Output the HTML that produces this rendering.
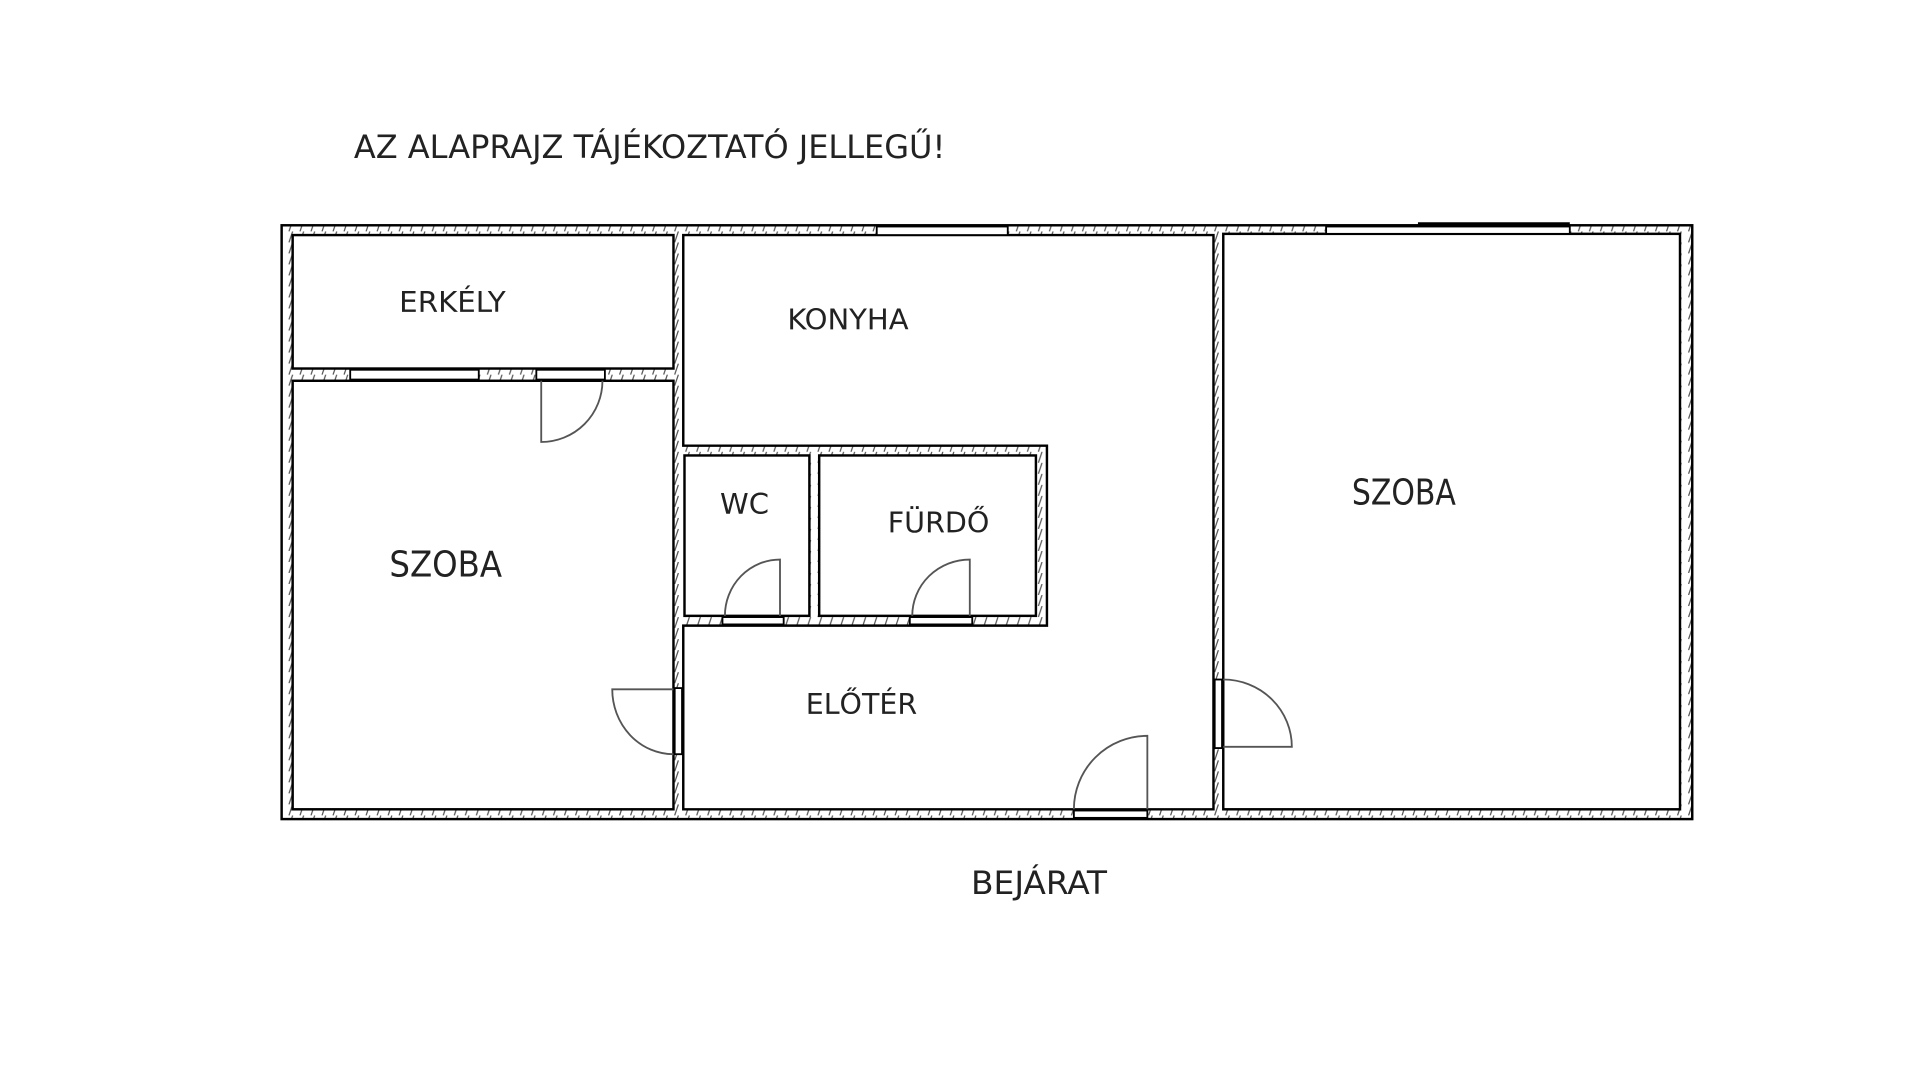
<!DOCTYPE html>
<html><head><meta charset="utf-8"><style>
html,body{margin:0;padding:0;background:#fff;}
svg{display:block}
text{font-family:"DejaVu Sans Condensed","Liberation Sans",sans-serif;fill:#222;}
</style></head><body>
<svg width="1920" height="1086" viewBox="0 0 1568 887" preserveAspectRatio="none">
<defs>
<pattern id="h" width="9" height="9" patternUnits="userSpaceOnUse">
<rect width="9" height="9" fill="#fff"/>
<line x1="2" y1="9" x2="5" y2="0" stroke="#555" stroke-width="1"/>
</pattern>
</defs>
<text x="289" y="129" font-size="26" textLength="483" lengthAdjust="spacingAndGlyphs">AZ ALAPRAJZ TÁJÉKOZTATÓ JELLEGŰ!</text>
<rect x="230" y="184" width="1152" height="485" fill="url(#h)" stroke="#000" stroke-width="2"/>
<g fill="#fff" stroke="#000" stroke-width="2">
<rect x="239" y="192" width="311" height="109"/>
<rect x="239" y="311" width="311" height="350"/>
<polygon points="558,192 991,192 991,661 558,661 558,511 855,511 855,364 558,364"/>
<rect x="559" y="372" width="102" height="131"/>
<rect x="669" y="372" width="177" height="131"/>
<rect x="999" y="191" width="373" height="470"/>
</g>
<g fill="#fff" stroke="#000" stroke-width="1.5">
<rect x="716" y="185" width="107" height="7"/>
<rect x="1083" y="185" width="199" height="6"/>
<rect x="286" y="302" width="105" height="8"/>
<rect x="438" y="302" width="56" height="8"/>
<rect x="590" y="504" width="50" height="6"/>
<rect x="743" y="504" width="51" height="6"/>
<rect x="877" y="662" width="60" height="6"/>
<rect x="551" y="562" width="6" height="54"/>
<rect x="992" y="555" width="6" height="56"/>
</g>
<line x1="1158" y1="183" x2="1282" y2="183" stroke="#000" stroke-width="3"/>
<g fill="none" stroke="#555" stroke-width="1.5">
<path d="M442 311 V361 A50 50 0 0 0 492 311"/>
<path d="M637 503 V457 A45 46 0 0 0 592 503"/>
<path d="M792 503 V457 A47 46 0 0 0 745 503"/>
<path d="M937 661 V601 A60 60 0 0 0 877 661"/>
<path d="M550 563 H500 A50 53 0 0 0 550 616"/>
<path d="M999 610 H1055 A56 55 0 0 0 999 555"/>
</g>
<text x="326" y="255" font-size="23" textLength="87" lengthAdjust="spacingAndGlyphs">ERKÉLY</text>
<text x="643" y="269" font-size="23" textLength="99" lengthAdjust="spacingAndGlyphs">KONYHA</text>
<text x="318" y="471" font-size="29" textLength="92" lengthAdjust="spacingAndGlyphs">SZOBA</text>
<text x="588" y="420" font-size="23" textLength="40" lengthAdjust="spacingAndGlyphs">WC</text>
<text x="725" y="435" font-size="23" textLength="83" lengthAdjust="spacingAndGlyphs">FÜRDŐ</text>
<text x="1104" y="412" font-size="29" textLength="85" lengthAdjust="spacingAndGlyphs">SZOBA</text>
<text x="658" y="583" font-size="23" textLength="91" lengthAdjust="spacingAndGlyphs">ELŐTÉR</text>
<text x="793" y="730" font-size="26" textLength="111" lengthAdjust="spacingAndGlyphs">BEJÁRAT</text>
</svg>
</body></html>
